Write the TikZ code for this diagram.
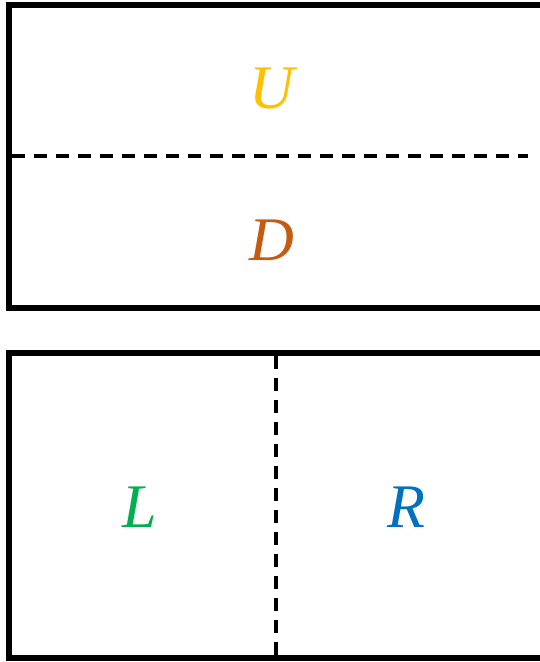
\documentclass[tikz,border=0pt]{standalone}
\usepackage{fontspec}
\setmainfont{Liberation Serif}
\definecolor{cU}{HTML}{FFC000}
\definecolor{cD}{HTML}{C55A11}
\definecolor{cL}{HTML}{00B050}
\definecolor{cR}{HTML}{0070C0}
\begin{document}
\begin{tikzpicture}[x=1pt,y=-1pt,
  box/.style={draw=black,line width=6pt},
  divider/.style={draw=black,line width=3.5pt,dash pattern=on 13pt off 9pt},
  lbl/.style={font=\fontsize{62}{62}\selectfont\itshape,inner sep=0pt}]
\useasboundingbox (0,0) rectangle (540,662);
\clip (0,0) rectangle (540,662);
\fill[white] (0,0) rectangle (540,662);
% top box
\coordinate (t1) at (9,5);
\coordinate (t2) at (543.5,307.5);
\draw[box] (t1) rectangle (t2);
\coordinate (hL) at (12,156);
\coordinate (hR) at (528,156);
\draw[divider] (hL) -- (hR);
\node[lbl,text=cU] (U) at (272,89) {U};
\node[lbl,text=cD] (D) at (272,240) {D};
% bottom box
\coordinate (b1) at (9,353);
\coordinate (b2) at (543.5,658);
\draw[box] (b1) rectangle (b2);
\coordinate (vT) at (276,356);
\coordinate (vB) at (276,655);
\draw[divider] (vT) -- (vB);
\node[lbl,text=cL] (L) at (140,507) {L};
\node[lbl,text=cR] (R) at (406,507) {R};
\end{tikzpicture}
\end{document}
